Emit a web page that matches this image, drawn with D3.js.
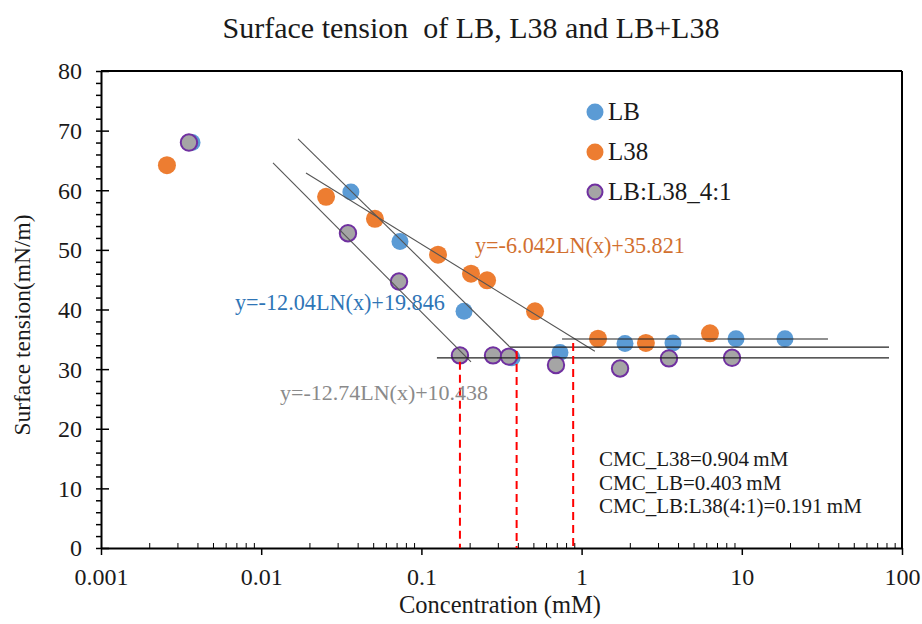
<!DOCTYPE html>
<html>
<head>
<meta charset="utf-8">
<script src="https://cdn.jsdelivr.net/npm/d3@7"></script>
<style>
  html, body { margin: 0; padding: 0; background: #fff; }
  svg { display: block; }
  text { font-family: "Liberation Serif", "Times New Roman", serif; }
</style>
</head>
<body>
<svg id="chart" width="922" height="624"></svg>
<script>
// ---- data ----
const lbX  = [0.0037, 0.0363, 0.0735, 0.1846, 0.368, 0.733, 1.866, 3.72, 9.2, 18.6];
const lbY  = [68.0, 59.7, 51.4, 39.7, 31.9, 32.8, 34.3, 34.4, 35.1, 35.1];
const l38X = [0.00258, 0.0254, 0.0513, 0.127, 0.204, 0.257, 0.512, 1.266, 2.52, 6.33];
const l38Y = [64.2, 58.9, 55.2, 49.2, 46.0, 44.9, 39.7, 35.1, 34.4, 36.0];
const mixX = [0.00354, 0.0348, 0.0725, 0.174, 0.280, 0.352, 0.692, 1.738, 3.51, 8.69];
const mixY = [68.0, 52.8, 44.7, 32.3, 32.3, 32.1, 30.7, 30.1, 31.8, 31.9];

const seriesNames = ["LB", "L38", "LB:L38_4:1"];

// fitted (log) trend segments: [x0, x1], [y0, y1]
const fitLBX  = [0.01697, 0.357], fitLBY  = [68.6, 33.7];
const fitL38X = [0.01904, 1.21],  fitL38Y = [62.9, 33.0];
const fitMixX = [0.01185, 0.204], fitMixY = [64.6, 31.2];
// plateau segments
const platL38X = [0.755, 34.5], platL38Y = [35.05, 35.05];
const platLBX  = [0.357, 83],   platLBY  = [33.7, 33.7];
const platMixX = [0.125, 83],   platMixY = [31.9, 31.9];
// CMC drop lines
const cmcX   = [0.174, 0.393, 0.886];
const cmcTop = [31.9, 33.7, 35.05];

const eqTexts  = ["y=-6.042LN(x)+35.821", "y=-12.04LN(x)+19.846", "y=-12.74LN(x)+10.438"];
const cmcTexts = ["CMC_L38=0.904\u2009mM", "CMC_LB=0.403\u2009mM", "CMC_LB:L38(4:1)=0.191\u2009mM"];

const xTicks = [0.001, 0.01, 0.1, 1, 10, 100];
const xTickLabels = ["0.001", "0.01", "0.1", "1", "10", "100"];
const yTicks = [0, 10, 20, 30, 40, 50, 60, 70, 80];

// ---- layout ----
const svg = d3.select("#chart");
const L = 101, R = 902, T = 71, B = 548;
const x = d3.scaleLog().domain([0.001, 100]).range([L, R]);
const y = d3.scaleLinear().domain([0, 80]).range([B, T]);

const colLB = "#5B9BD5", colL38 = "#ED7D31", colMix = "#A5A5A5", colMixStroke = "#7030A0";
const ink = "#1a1a1a";

// title
svg.append("text").attr("x", 471).attr("y", 38).attr("text-anchor", "middle")
  .style("white-space", "pre")
  .attr("font-size", 30).attr("fill", ink).text("Surface tension  of LB, L38 and LB+L38");

// axes titles
svg.append("text").attr("x", 500).attr("y", 613).attr("text-anchor", "middle")
  .attr("font-size", 24.5).attr("fill", ink).text("Concentration (mM)");
svg.append("text").attr("transform", "translate(30,325) rotate(-90)").attr("text-anchor", "middle")
  .attr("font-size", 23.5).attr("fill", ink).text("Surface tension(mN/m)");

// minor x ticks (inside)
const xMinor = [];
for (let e = -3; e < 2; e++) for (let m = 2; m <= 9; m++) xMinor.push(m * Math.pow(10, e));
const gxMinor = svg.append("g").attr("transform", `translate(0,${B})`)
  .call(d3.axisBottom(x).tickValues(xMinor).tickSizeInner(-5).tickSizeOuter(0).tickFormat(""));
gxMinor.select(".domain").remove();

// major x axis
const gx = svg.append("g").attr("transform", `translate(0,${B})`)
  .call(d3.axisBottom(x).tickValues(xTicks).tickSizeInner(7).tickSizeOuter(0)
    .tickFormat((d, i) => xTickLabels[i]));
gx.select(".domain").attr("stroke-width", 2);
gx.selectAll(".tick line").attr("stroke-width", 1.5);
gx.selectAll(".tick text").attr("y", 37).attr("dy", 0).attr("font-size", 24)
  .attr("fill", ink);

// minor y ticks
const yMinor = d3.range(0, 81, 2).filter(v => v % 10 !== 0);
const gyMinor = svg.append("g").attr("transform", `translate(${L},0)`)
  .call(d3.axisLeft(y).tickValues(yMinor).tickSizeInner(5).tickSizeOuter(0).tickFormat(""));
gyMinor.select(".domain").remove();
gyMinor.selectAll(".tick line").attr("stroke-width", 1.5);

// major y ticks crossing the axis
const gyIn = svg.append("g").attr("transform", `translate(${L},0)`)
  .call(d3.axisLeft(y).tickValues(yTicks).tickSizeInner(-8).tickSizeOuter(0).tickFormat(""));
gyIn.select(".domain").remove();
gyIn.selectAll(".tick line").attr("stroke-width", 1.5);

const gy = svg.append("g").attr("transform", `translate(${L},0)`)
  .call(d3.axisLeft(y).tickValues(yTicks).tickSizeInner(5).tickSizeOuter(0).tickPadding(14));
gy.select(".domain").attr("stroke-width", 2);
gy.selectAll(".tick line").attr("stroke-width", 1.5);
gy.selectAll(".tick text").attr("font-size", 24).attr("dy", "0.33em").attr("fill", ink);

// frame top and right
svg.append("line").attr("x1", L).attr("x2", R).attr("y1", y(80)).attr("y2", y(80))
  .attr("stroke", "#000").attr("stroke-width", 2);
svg.append("line").attr("x1", R).attr("x2", R).attr("y1", y(80)).attr("y2", y(0))
  .attr("stroke", "#000").attr("stroke-width", 2);

// points
function pts(xs, ys) { return xs.map((v, i) => ({ x: v, y: ys[i] })); }
const gPts = svg.append("g");
gPts.selectAll("circle.lb").data(pts(lbX, lbY)).join("circle").attr("class", "lb")
  .attr("cx", d => x(d.x)).attr("cy", d => y(d.y)).attr("r", 8.5).attr("fill", colLB);
gPts.selectAll("circle.l38").data(pts(l38X, l38Y)).join("circle").attr("class", "l38")
  .attr("cx", d => x(d.x)).attr("cy", d => y(d.y)).attr("r", 9).attr("fill", colL38);
gPts.selectAll("circle.mix").data(pts(mixX, mixY)).join("circle").attr("class", "mix")
  .attr("cx", d => x(d.x)).attr("cy", d => y(d.y)).attr("r", 8.2).attr("fill", colMix)
  .attr("stroke", colMixStroke).attr("stroke-width", 2);

// trend lines
const line = d3.line().x(d => x(d.x)).y(d => y(d.y));
[[fitLBX, fitLBY], [fitL38X, fitL38Y], [fitMixX, fitMixY]].forEach(([xs, ys]) => {
  svg.append("path").attr("d", line(pts(xs, ys))).attr("fill", "none")
    .attr("stroke", "#555").attr("stroke-width", 1.1);
});
[[platL38X, platL38Y], [platLBX, platLBY], [platMixX, platMixY]].forEach(([xs, ys]) => {
  svg.append("path").attr("d", line(pts(xs, ys))).attr("fill", "none")
    .attr("stroke", "#222").attr("stroke-width", 1.2);
});

// CMC drop lines
cmcX.forEach((cx, i) => {
  svg.append("line").attr("x1", x(cx)).attr("x2", x(cx)).attr("y1", y(cmcTop[i])).attr("y2", y(0))
    .attr("stroke", "#FF0000").attr("stroke-width", 2)
    .attr("stroke-dasharray", "8,5").attr("stroke-dashoffset", 9);
});

// equations
svg.append("text").attr("x", 475).attr("y", 253).attr("font-size", 22.2).attr("fill", "#D2702F").text(eqTexts[0]);
svg.append("text").attr("x", 235).attr("y", 310).attr("font-size", 22.2).attr("fill", "#2E75B6").text(eqTexts[1]);
svg.append("text").attr("x", 280).attr("y", 400).attr("font-size", 22).attr("fill", "#8A8A8A").text(eqTexts[2]);

// CMC texts
cmcTexts.forEach((t, i) => {
  svg.append("text").attr("x", 599).attr("y", 466 + i * 23.5).attr("font-size", 21)
    .attr("fill", ink).text(t);
});

// legend
const legCols = [colLB, colL38, colMix];
seriesNames.forEach((n, i) => {
  const cy = 112 + i * 40;
  const c = svg.append("circle").attr("cx", 595).attr("cy", cy).attr("r", i === 2 ? 7.5 : 8.5).attr("fill", legCols[i]);
  if (i === 2) c.attr("stroke", colMixStroke).attr("stroke-width", 2);
  svg.append("text").attr("x", 608).attr("y", cy + 8).attr("font-size", 25).attr("fill", ink).text(n);
});
</script>
</body>
</html>
